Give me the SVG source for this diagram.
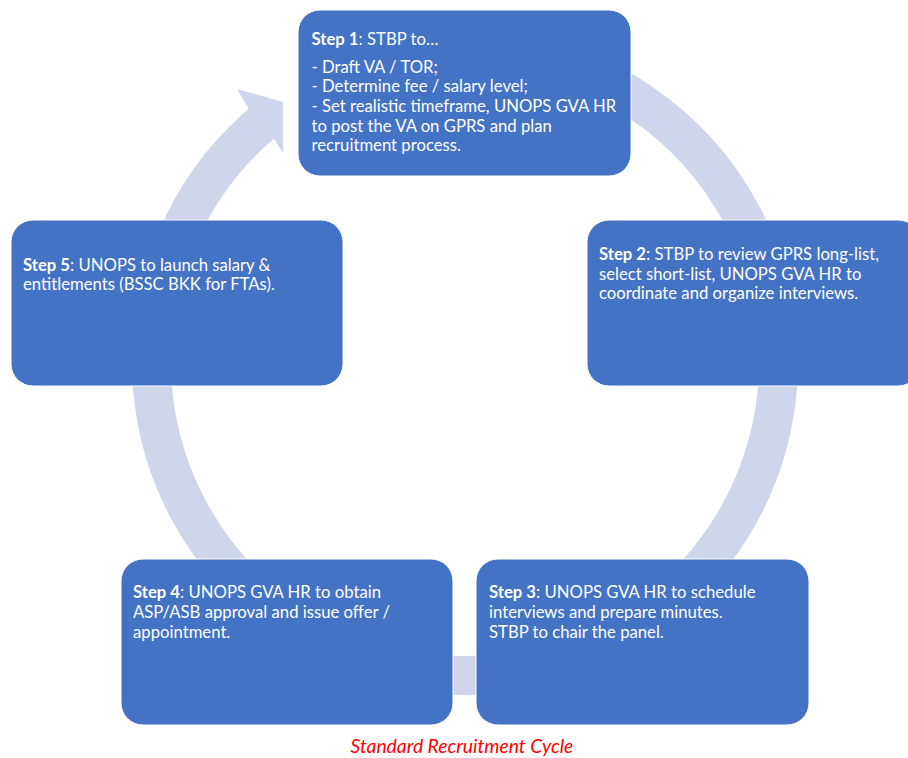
<svg xmlns="http://www.w3.org/2000/svg" width="908" height="758" viewBox="0 0 908 758">
<style>
.box{fill:#4472C4;stroke:#ffffff;stroke-width:1}
.t{font-family:Lato,"Liberation Sans",sans-serif;font-size:16.7px;fill:#ffffff}
.b{font-weight:bold}
.ring{fill:none;stroke:#CFD5EA;stroke-width:39}
.cap{font-family:Lato,"Liberation Sans",sans-serif;font-size:19.3px;font-style:italic;fill:#FF0000}
</style>
<rect width="908" height="758" fill="#ffffff"/>
<g id="connectors">
<path class="ring" d="M 519.4 53.3 A 313.5 313.5 0 1 1 267.7 118.4"/>
<polygon fill="#CFD5EA" points="248.7,108.8 237,89 283,102 283,153 274.1,138.4"/>
</g>
<g id="step1">
<rect class="box" x="298" y="10" width="333" height="166" rx="22"/>
<text class="t" x="311.5" y="44.5"><tspan class="b">Step 1</tspan>: STBP to…</text>
<text class="t" x="311.5" y="72.5">- Draft VA / TOR;</text>
<text class="t" x="311.5" y="92.2">- Determine fee / salary level;</text>
<text class="t" x="311.5" y="111.9">- Set realistic timeframe, UNOPS GVA HR</text>
<text class="t" x="311.5" y="131.6">to post the VA on GPRS and plan</text>
<text class="t" x="311.5" y="151.3">recruitment process.</text>
</g>
<g id="step2">
<rect class="box" x="587" y="220" width="333" height="166" rx="22"/>
<text class="t" x="599" y="260"><tspan class="b">Step 2</tspan>: STBP to review GPRS long-list,</text>
<text class="t" x="599" y="279.7">select short-list, UNOPS GVA HR to</text>
<text class="t" x="599" y="299.4">coordinate and organize interviews.</text>
</g>
<g id="step3">
<rect class="box" x="476" y="559" width="333" height="166" rx="22"/>
<text class="t" x="489" y="598.3"><tspan class="b">Step 3</tspan>: UNOPS GVA HR to schedule</text>
<text class="t" x="489" y="618">interviews and prepare minutes.</text>
<text class="t" x="489" y="637.7">STBP to chair the panel.</text>
</g>
<g id="step4">
<rect class="box" x="121" y="559" width="332" height="166" rx="22"/>
<text class="t" x="133" y="598.3"><tspan class="b">Step 4</tspan>: UNOPS GVA HR to obtain</text>
<text class="t" x="133" y="618">ASP/ASB approval and issue offer /</text>
<text class="t" x="133" y="637.7">appointment.</text>
</g>
<g id="step5">
<rect class="box" x="11" y="220" width="332" height="166" rx="22"/>
<text class="t" x="23" y="270.5"><tspan class="b">Step 5</tspan>: UNOPS to launch salary &amp;</text>
<text class="t" x="23" y="290.2">entitlements (BSSC BKK for FTAs).</text>
</g>
<text class="cap" x="350.5" y="753">Standard Recruitment Cycle</text>
</svg>
